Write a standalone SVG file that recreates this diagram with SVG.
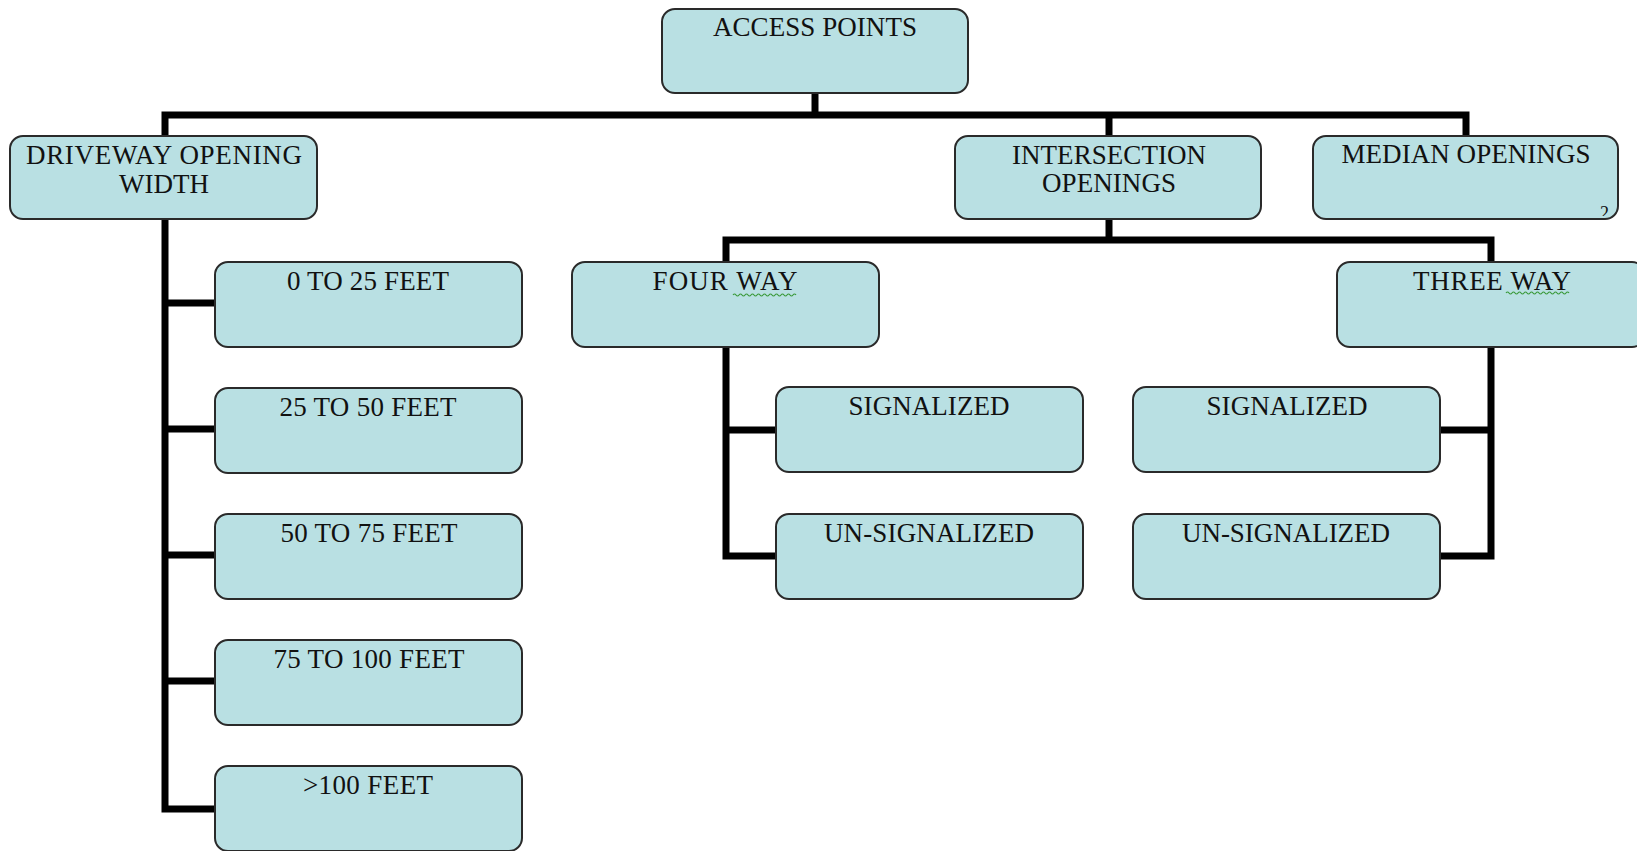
<svg xmlns="http://www.w3.org/2000/svg" width="1637" height="851" viewBox="0 0 1637 851">
<defs>
<style>
.box{fill:#b9e0e3;stroke:#2a2a2a;stroke-width:2}
.t{font-family:"Liberation Serif","Times New Roman",serif;font-size:27px;fill:#111;text-anchor:middle}
.c{fill:none;stroke:#000;stroke-width:7;stroke-linejoin:miter;stroke-linecap:butt}
.sq{fill:none;stroke:#3a9a3a;stroke-width:1.2}
</style>
<clipPath id="medclip"><rect x="1313" y="136" width="305" height="80"/></clipPath>
</defs>
<rect width="1637" height="851" fill="#fff"/>
<g id="connectors">
<path class="c" d="M815,93 V115"/>
<path class="c" d="M165,136 V115 H1466 V136"/>
<path class="c" d="M1109,115 V137"/>
<path class="c" d="M165,219 V809 H215"/>
<path class="c" d="M165,303 H215 M165,429 H215 M165,555 H215 M165,681 H215"/>
<path class="c" d="M1109,218 V240"/>
<path class="c" d="M726,262 V240 H1491 V262"/>
<path class="c" d="M726,347 V556 H776 M726,430 H776"/>
<path class="c" d="M1491,347 V556 H1440 M1491,430 H1440"/>
</g>
<g id="access-points"><rect class="box" x="662" y="9" width="306" height="84" rx="13"/><text class="t" x="815" y="36" textLength="204" lengthAdjust="spacing">ACCESS POINTS</text></g>
<g id="driveway"><rect class="box" x="10" y="136" width="307" height="83" rx="13"/><text class="t" x="164" y="164" textLength="276" lengthAdjust="spacing">DRIVEWAY OPENING</text><text class="t" x="164" y="193" textLength="90" lengthAdjust="spacing">WIDTH</text></g>
<g id="intersection"><rect class="box" x="955" y="136" width="306" height="83" rx="13"/><text class="t" x="1109" y="164" textLength="194" lengthAdjust="spacing">INTERSECTION</text><text class="t" x="1109" y="192" textLength="134" lengthAdjust="spacing">OPENINGS</text></g>
<g id="median"><rect class="box" x="1313" y="136" width="305" height="83" rx="13"/><text class="t" x="1466" y="163" textLength="249" lengthAdjust="spacing">MEDIAN OPENINGS</text><text clip-path="url(#medclip)" style="font-family:'Liberation Serif',serif;font-size:18px;fill:#111" x="1600" y="219">2</text></g>
<g id="d0"><rect class="box" x="215" y="262" width="307" height="85" rx="13"/><text class="t" x="368" y="290" textLength="162" lengthAdjust="spacing">0 TO 25 FEET</text></g>
<g id="d1"><rect class="box" x="215" y="388" width="307" height="85" rx="13"/><text class="t" x="368" y="416" textLength="177" lengthAdjust="spacing">25 TO 50 FEET</text></g>
<g id="d2"><rect class="box" x="215" y="514" width="307" height="85" rx="13"/><text class="t" x="369" y="542" textLength="177" lengthAdjust="spacing">50 TO 75 FEET</text></g>
<g id="d3"><rect class="box" x="215" y="640" width="307" height="85" rx="13"/><text class="t" x="369" y="668" textLength="191" lengthAdjust="spacing">75 TO 100 FEET</text></g>
<g id="d4"><rect class="box" x="215" y="766" width="307" height="85" rx="13"/><text class="t" x="368" y="794" textLength="130" lengthAdjust="spacing">&gt;100 FEET</text></g>
<g id="four-way"><rect class="box" x="572" y="262" width="307" height="85" rx="13"/><text class="t" x="725" y="290" textLength="145" lengthAdjust="spacing">FOUR WAY</text><path class="sq" d="M733,295 q1.5,-2 3,0 t3,0 t3,0 t3,0 t3,0 t3,0 t3,0 t3,0 t3,0 t3,0 t3,0 t3,0 t3,0 t3,0 t3,0 t3,0 t3,0 t3,0 t3,0 t3,0 t3,0"/></g>
<g id="three-way"><rect class="box" x="1337" y="262" width="308" height="85" rx="13"/><text class="t" x="1492" y="290" textLength="158" lengthAdjust="spacing">THREE WAY</text><path class="sq" d="M1506,293 q1.5,-2 3,0 t3,0 t3,0 t3,0 t3,0 t3,0 t3,0 t3,0 t3,0 t3,0 t3,0 t3,0 t3,0 t3,0 t3,0 t3,0 t3,0 t3,0 t3,0 t3,0 t3,0"/></g>
<g id="four-sig"><rect class="box" x="776" y="387" width="307" height="85" rx="13"/><text class="t" x="929" y="415" textLength="161" lengthAdjust="spacing">SIGNALIZED</text></g>
<g id="four-unsig"><rect class="box" x="776" y="514" width="307" height="85" rx="13"/><text class="t" x="929" y="542" textLength="210" lengthAdjust="spacing">UN-SIGNALIZED</text></g>
<g id="three-sig"><rect class="box" x="1133" y="387" width="307" height="85" rx="13"/><text class="t" x="1287" y="415" textLength="161" lengthAdjust="spacing">SIGNALIZED</text></g>
<g id="three-unsig"><rect class="box" x="1133" y="514" width="307" height="85" rx="13"/><text class="t" x="1286" y="542" textLength="208" lengthAdjust="spacing">UN-SIGNALIZED</text></g>
</svg>
